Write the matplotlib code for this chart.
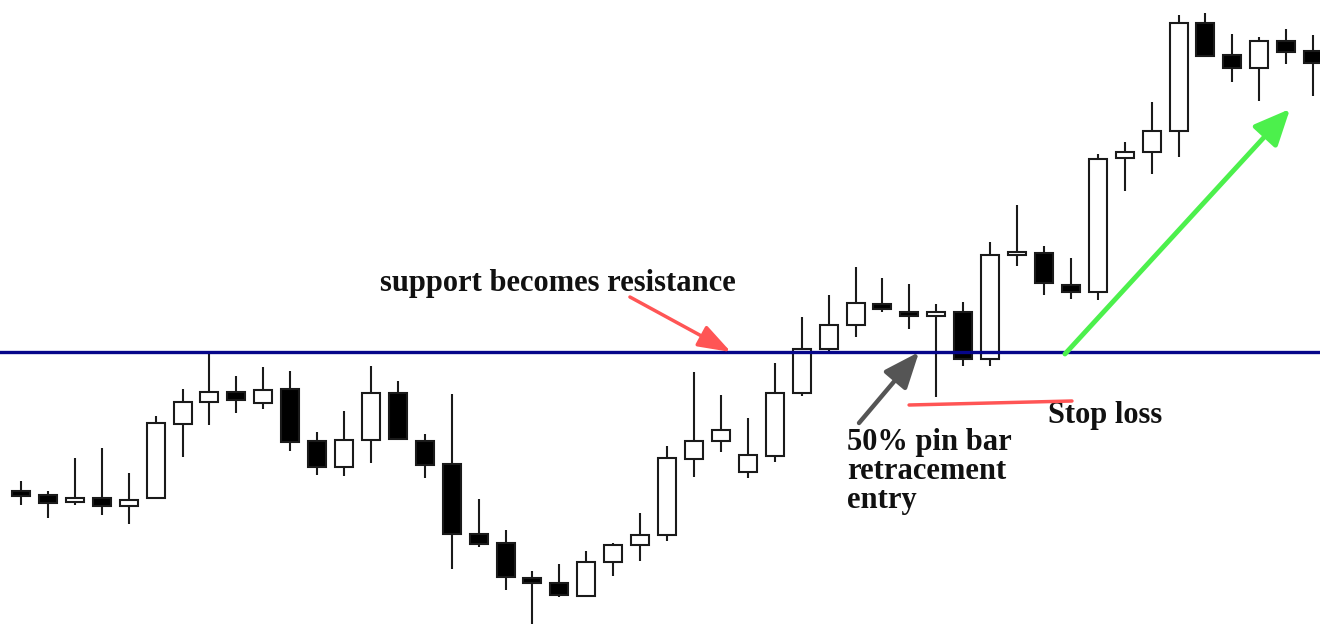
import numpy as np
import matplotlib
matplotlib.use("Agg")
import matplotlib.pyplot as plt

# OHLC prices for each session
opens = [135, 131, 124, 128, 120, 128, 202, 224, 234, 223, 237, 185, 159, 186, 233, 185,
         162, 92, 83, 48, 43, 30, 64, 81, 91, 167, 185, 154, 170, 233, 277, 301, 322,
         314, 310, 314, 267, 371, 373, 341, 334, 468, 474, 495, 603, 571, 558, 585, 575]
highs = [145, 135, 168, 178, 153, 210, 237, 273, 250, 259, 255, 194, 215, 260, 245, 192,
         232, 127, 96, 55, 62, 75, 83, 113, 180, 254, 231, 208, 263, 309, 331, 359, 348,
         342, 322, 324, 384, 421, 380, 368, 472, 484, 524, 611, 613, 592, 589, 597, 591]
lows = [121, 108, 121, 111, 102, 128, 169, 201, 213, 217, 175, 151, 150, 163, 186, 148,
        57, 79, 36, 2, 29, 30, 50, 65, 85, 149, 174, 148, 164, 230, 272, 289, 314,
        297, 229, 260, 260, 360, 331, 327, 326, 435, 452, 469, 569, 544, 525, 562, 530]
closes = [130, 123, 128, 120, 126, 203, 224, 234, 226, 236, 184, 159, 186, 233, 187, 161,
          92, 82, 49, 43, 31, 64, 81, 91, 168, 185, 196, 171, 233, 277, 301, 323, 317,
          310, 314, 267, 371, 374, 343, 334, 467, 474, 495, 603, 570, 558, 585, 574, 563]

level = 274        # broken support, now resistance
stop_loss = [221, 225]

opens = np.array(opens)
closes = np.array(closes)
highs = np.array(highs)
lows = np.array(lows)
x = np.arange(len(opens))

fig = plt.figure(figsize=(13.2, 6.26), dpi=100)
ax = fig.add_axes([0, 0, 1, 1])

# wicks
ax.vlines(x, lows, highs, color="#1a1a1a", linewidth=1.5, zorder=2)

# bodies: black for down candles, white for up candles
up = closes >= opens
body_low = np.minimum(opens, closes)
body_h = np.abs(closes - opens)
ax.bar(x, body_h, bottom=body_low, width=0.67,
       color=np.where(up, "white", "black"), edgecolor="#1a1a1a",
       linewidth=1.5, zorder=3)

# horizontal level
ax.axhline(level, color="#06068a", linewidth=2.4, zorder=4)

serif = dict(family="Liberation Serif", fontweight="bold", fontsize=22, color="#111111")

ax.text(19.95, 343, "support becomes resistance", ha="center", va="center", **serif)
ax.annotate("", xy=(26.37, level), xytext=(22.62, 329),
            arrowprops=dict(arrowstyle="-|>,head_length=1.0,head_width=0.35",
                            color="#ff5555", lw=2.5, mutation_scale=20,
                            shrinkA=0, shrinkB=0), zorder=5)

ax.text(30.68, 198, "50% pin bar\nretracement\nentry", ha="left", va="top",
        linespacing=1.0, **serif)
ax.annotate("", xy=(33.36, level), xytext=(31.13, 203),
            arrowprops=dict(arrowstyle="-|>,head_length=1.1,head_width=0.45",
                            color="#555555", lw=3.2, mutation_scale=20,
                            shrinkA=0, shrinkB=0), zorder=5)

# stop loss below the pin bar low
ax.plot([32.99, 39.04], stop_loss, color="#ff5555", linewidth=2.5,
        solid_capstyle="round", zorder=5)
ax.text(40.27, 211, "Stop loss", ha="center", va="center", **serif)

# move higher after the retest
ax.annotate("", xy=(47.14, 517), xytext=(38.78, 272),
            arrowprops=dict(arrowstyle="-|>,head_length=1.0,head_width=0.45",
                            color="#4cf04c", lw=3.5, mutation_scale=22,
                            shrinkA=0, shrinkB=0), zorder=5)

ax.set_xlim(-21 / 26.92, (1320 - 21) / 26.92)
ax.set_ylim(0, 626)
ax.axis("off")

fig.savefig("out.png", dpi=100, facecolor="white")
